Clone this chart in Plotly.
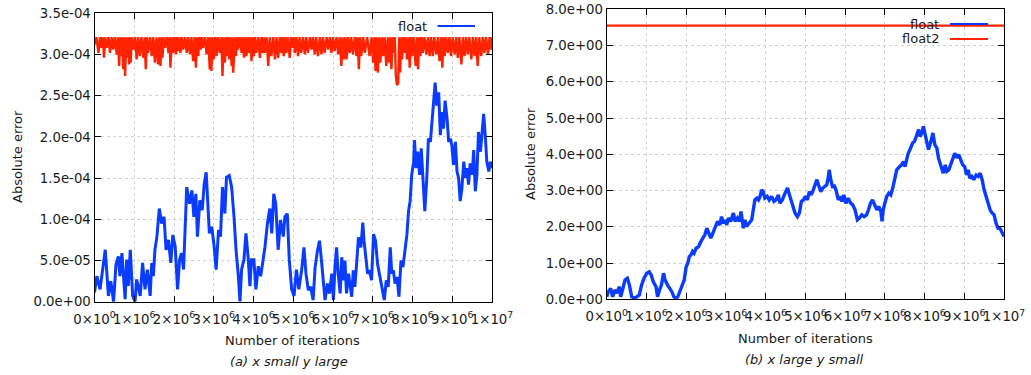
import plotly.graph_objects as go

W, H = 1031, 375

# ---------------- data (x in millions of iterations) ----------------
# (a) blue "float" series, values in 1e-5
a_float_x = [0.00, 0.06, 0.14, 0.23, 0.27, 0.35, 0.41, 0.48, 0.54, 0.60, 0.64, 0.69, 0.73, 0.77, 0.81, 0.85, 0.90, 0.96,
             1.02, 1.06, 1.15, 1.21, 1.27, 1.33, 1.40, 1.44, 1.48, 1.52, 1.57, 1.63, 1.69, 1.75, 1.80, 1.86, 1.92, 1.97,
             2.03, 2.09, 2.14, 2.19, 2.24, 2.28, 2.32, 2.39, 2.45, 2.50, 2.55, 2.59, 2.65, 2.71, 2.76, 2.81, 2.84, 2.89,
             2.95, 3.01, 3.06, 3.12, 3.17, 3.22, 3.28, 3.32, 3.39, 3.45, 3.51, 3.56, 3.62, 3.66, 3.70, 3.76, 3.81, 3.87,
             3.91, 3.95, 4.01, 4.06, 4.12, 4.18, 4.23, 4.29, 4.35, 4.41, 4.46, 4.51, 4.56, 4.62, 4.68, 4.75, 4.79, 4.85,
             4.90, 4.96, 5.02, 5.08, 5.14,
             5.21, 5.27, 5.32, 5.38, 5.44, 5.50, 5.55, 5.61, 5.66, 5.71, 5.76, 5.80, 5.86, 5.91, 5.97, 6.01, 6.05, 6.09,
             6.13, 6.18, 6.22, 6.26, 6.30, 6.34, 6.39, 6.43, 6.47, 6.51, 6.55, 6.60, 6.64, 6.70, 6.75, 6.78, 6.83, 6.87,
             6.92, 6.97, 7.02, 7.07, 7.12, 7.17, 7.23, 7.29, 7.34, 7.39, 7.44, 7.48, 7.52, 7.56, 7.61, 7.66, 7.71, 7.76,
             7.82, 7.86, 7.90, 7.94, 7.98, 8.03, 8.05, 8.09, 8.13, 8.18, 8.22, 8.26, 8.31, 8.36, 8.40, 8.45, 8.49, 8.53,
             8.57, 8.61, 8.66, 8.70, 8.74, 8.78, 8.82, 8.87, 8.91, 8.95, 8.99, 9.03, 9.08, 9.12, 9.16, 9.20, 9.24, 9.29,
             9.33, 9.37, 9.41, 9.45, 9.50, 9.54, 9.58, 9.62, 9.66, 9.71, 9.75, 9.79, 9.83, 9.87, 9.92, 9.96, 10.00]
a_float_y = [1.1, 3.1, 1.5, 5.1, 6.3, 0.7, 2.5, 0.0, 4.5, 5.5, 3.1, 5.9, 2.3, 0.3, 5.1, 1.9, 6.3, 0.7,
             0.0, 2.7, 0.7, 4.7, 1.5, 3.9, 0.7, 4.7, 3.1, 6.3, 7.9, 11.3, 9.5, 10.3, 6.3, 7.5, 4.7, 8.1,
             6.7, 1.5, 5.1, 5.9, 3.9, 8.3, 13.9, 11.9, 13.5, 10.3, 13.1, 7.9, 12.3, 11.1, 14.3, 15.7, 12.3, 8.3,
             9.1, 6.7, 3.9, 8.7, 7.9, 13.9, 10.7, 15.1, 15.3, 13.9, 10.3, 6.3, 3.1, 0.0, 3.9, 5.1, 8.3, 5.1,
             1.9, 5.1, 5.1, 1.5, 4.3, 3.1, 4.7, 6.7, 9.5, 11.3, 8.3, 13.1, 11.9, 6.3, 9.9, 7.9, 10.3, 10.7,
             5.1, 1.5, 0.7, 3.9, 1.5,
             3.8, 6.6, 3.4, 1.4, 1.8, 0.2, 4.2, 6.2, 7.4, 5.0, 2.6, 0.2, 2.2, 1.0, 3.4, 0.2, 4.2, 6.6,
             3.4, 1.0, 5.4, 2.6, 5.0, 1.0, 3.4, 1.8, 0.6, 3.8, 1.8, 5.0, 7.8, 6.6, 9.6, 7.4, 5.0, 3.4,
             3.8, 2.6, 8.2, 7.4, 4.6, 3.4, 1.8, 0.2, 2.6, 1.8, 6.6, 3.4, 3.8, 2.2, 3.0, 0.6, 5.0, 4.2,
             6.6, 8.2, 11.0, 12.2, 15.4, 17.0, 19.6, 16.2, 18.2, 15.4, 18.6, 15.0, 11.0, 15.0, 19.8, 19.4, 22.2, 25.0,
             26.6, 23.8, 25.4, 20.2, 23.0, 21.0, 24.4, 22.2, 19.4, 19.8, 19.0, 16.6, 19.4, 15.8, 15.0, 12.2, 13.6, 17.0,
             15.0, 16.2, 14.2, 16.8, 15.4, 18.4, 13.4, 15.4, 20.6, 18.2, 20.6, 22.8, 20.2, 17.0, 15.8, 17.0, 16.2]

# (a) red series: downward spikes (values in 1e-4) and the ceiling it keeps touching
a_red_low_x = [0.01, 0.10, 0.18, 0.24, 0.31, 0.39, 0.47, 0.56, 0.62, 0.68, 0.72, 0.77, 0.82, 0.87, 0.91, 0.98,
               1.06, 1.14, 1.23, 1.29, 1.35, 1.44, 1.52, 1.60, 1.66, 1.71, 1.77, 1.86, 1.91, 1.98, 2.05, 2.11,
               2.16, 2.23, 2.32, 2.40, 2.48, 2.55, 2.61, 2.67, 2.73, 2.82, 2.90, 2.94, 3.00, 3.07, 3.15, 3.22,
               3.28, 3.34, 3.39, 3.45, 3.49, 3.56, 3.61, 3.70, 3.76, 3.82, 3.89, 3.95, 4.01, 4.07, 4.16, 4.23,
               4.28, 4.37, 4.45, 4.54, 4.62, 4.70, 4.76, 4.83, 4.91, 4.99,
               5.04, 5.12, 5.20, 5.29, 5.37, 5.46, 5.54, 5.62, 5.71, 5.79, 5.88, 5.96, 6.04, 6.13, 6.21, 6.27,
               6.34, 6.42, 6.50, 6.59, 6.65, 6.71, 6.80, 6.92, 7.01, 7.07, 7.13, 7.19, 7.26, 7.34, 7.41, 7.47,
               7.53, 7.58, 7.61, 7.64, 7.69, 7.74, 7.80, 7.86, 7.93, 7.99, 8.08, 8.14, 8.20, 8.26, 8.35, 8.43,
               8.51, 8.60, 8.68, 8.75, 8.81, 8.89, 8.97, 9.06, 9.14, 9.23, 9.31, 9.39, 9.48, 9.56, 9.64, 9.73,
               9.81, 9.90, 9.98]
a_red_low_y = [3.12, 3.02, 3.08, 2.96, 3.08, 3.02, 3.06, 3.00, 2.86, 2.98, 2.82, 2.74, 2.96, 2.88, 2.90, 3.06,
               2.94, 2.98, 2.96, 2.82, 3.02, 2.98, 2.90, 2.88, 2.86, 2.96, 3.08, 3.02, 2.84, 3.02, 3.00, 3.04,
               3.02, 3.06, 3.02, 3.00, 2.92, 2.84, 2.98, 3.06, 3.08, 3.00, 2.82, 2.80, 2.94, 2.98, 3.02, 2.74,
               2.90, 2.98, 2.94, 2.86, 2.78, 2.98, 3.06, 3.02, 2.96, 2.98, 3.02, 2.92, 2.98, 3.02, 2.96, 3.02,
               3.02, 2.86, 2.98, 2.94, 2.96, 3.02, 2.98, 3.02, 2.96, 3.08,
               3.02, 2.98, 3.02, 3.00, 3.02, 3.06, 3.00, 2.98, 3.00, 3.02, 3.06, 3.02, 3.04, 3.00, 2.86, 2.94,
               2.94, 3.02, 3.00, 2.98, 2.82, 2.98, 3.02, 2.98, 2.90, 2.80, 2.78, 2.90, 2.98, 2.86, 2.90, 2.82,
               3.02, 2.74, 2.63, 2.65, 2.78, 2.94, 3.02, 2.94, 2.84, 2.98, 2.86, 2.82, 2.98, 3.02, 3.00, 2.98,
               2.98, 3.00, 2.92, 2.84, 2.98, 3.02, 2.98, 3.00, 2.96, 2.88, 2.98, 3.00, 2.94, 2.98, 2.86, 2.98,
               3.02, 3.00, 3.06]
a_red_top_x = [0.00, 0.05, 0.14, 0.21, 0.27, 0.35, 0.43, 0.51, 0.59, 0.65, 0.70, 0.75, 0.80, 0.85, 0.89, 0.94,
               1.02, 1.10, 1.18, 1.26, 1.32, 1.40, 1.48, 1.56, 1.63, 1.69, 1.74, 1.82, 1.89, 1.95, 2.02, 2.08,
               2.14, 2.20, 2.28, 2.36, 2.44, 2.52, 2.58, 2.64, 2.70, 2.78, 2.86, 2.92, 2.97, 3.04, 3.11, 3.19,
               3.25, 3.31, 3.37, 3.42, 3.47, 3.53, 3.59, 3.66, 3.73, 3.79, 3.86, 3.92, 3.98, 4.04, 4.12, 4.20,
               4.26, 4.33, 4.41, 4.50, 4.58, 4.66, 4.73, 4.80, 4.87, 4.95, 5.02,
               5.08, 5.16, 5.25, 5.33, 5.42, 5.50, 5.58, 5.67, 5.75, 5.84, 5.92, 6.00, 6.09, 6.17, 6.24, 6.31,
               6.38, 6.46, 6.55, 6.62, 6.68, 6.76, 6.86, 6.97, 7.04, 7.10, 7.16, 7.23, 7.30, 7.38, 7.44, 7.50,
               7.555, 7.665, 7.715, 7.77, 7.83, 7.90, 7.96, 8.03, 8.11, 8.17, 8.23, 8.30, 8.39, 8.47, 8.55, 8.64,
               8.72, 8.78, 8.85, 8.93, 9.01, 9.10, 9.18, 9.27, 9.35, 9.43, 9.52, 9.60, 9.68, 9.77, 9.85, 9.94, 10.00]
a_red_ceiling = 3.21

# (b) blue "float" series
b_float_x = [0.00, 0.04, 0.10, 0.15, 0.21, 0.25, 0.32, 0.35, 0.40, 0.46, 0.52, 0.57, 0.63, 0.69, 0.76, 0.82,
             0.88, 0.94, 1.01, 1.07, 1.12, 1.17, 1.24, 1.28, 1.33, 1.38, 1.43, 1.47, 1.53, 1.59, 1.64, 1.69,
             1.74, 1.79, 1.85, 1.90, 1.95, 2.00, 2.04, 2.08, 2.12, 2.16, 2.20, 2.25, 2.31, 2.37, 2.42, 2.47,
             2.52, 2.57, 2.62, 2.67, 2.73, 2.79, 2.85, 2.89, 2.94, 2.98, 3.02, 3.06, 3.12, 3.19, 3.23, 3.29,
             3.34, 3.38, 3.44, 3.48, 3.52, 3.59, 3.65, 3.69, 3.73, 3.78, 3.82, 3.86, 3.90, 3.94, 3.98, 4.04,
             4.09, 4.15, 4.21, 4.26, 4.32, 4.36, 4.42, 4.49, 4.55, 4.60, 4.64, 4.70, 4.74, 4.80, 4.85, 4.90,
             4.95, 5.00, 5.05, 5.10, 5.15, 5.20, 5.25, 5.29, 5.33, 5.39, 5.44, 5.49, 5.54, 5.58, 5.60, 5.64,
             5.69, 5.72, 5.77, 5.83, 5.87, 5.92, 5.97, 6.02, 6.08, 6.14, 6.19, 6.25, 6.31, 6.36, 6.42, 6.48,
             6.54, 6.59, 6.64, 6.69, 6.74, 6.80, 6.85, 6.90, 6.93, 6.96, 7.00, 7.05, 7.10, 7.15, 7.20, 7.25,
             7.30, 7.37, 7.42, 7.47, 7.51, 7.55, 7.59, 7.65, 7.70, 7.75, 7.80, 7.85, 7.89, 7.93, 7.97, 8.01,
             8.05, 8.10, 8.15, 8.21, 8.26, 8.31, 8.35, 8.39, 8.44, 8.47, 8.52, 8.56, 8.61, 8.66, 8.71, 8.76,
             8.81, 8.86, 8.91, 8.96, 9.01, 9.06, 9.10, 9.14, 9.19, 9.24, 9.30, 9.35, 9.40, 9.45, 9.50, 9.55,
             9.60, 9.65, 9.70, 9.75, 9.80, 9.85, 9.90, 9.95, 10.00]
b_float_y = [0.07, 0.21, 0.30, 0.07, 0.26, 0.17, 0.35, 0.07, 0.26, 0.53, 0.58, 0.40, 0.07, 0.03, 0.07, 0.12,
             0.40, 0.58, 0.72, 0.76, 0.67, 0.49, 0.35, 0.07, 0.26, 0.40, 0.72, 0.53, 0.40, 0.30, 0.21, 0.07,
             0.03, 0.07, 0.26, 0.35, 0.53, 0.90, 0.99, 1.18, 1.22, 1.32, 1.27, 1.41, 1.45, 1.59, 1.69, 1.78,
             1.96, 1.82, 1.69, 1.82, 1.96, 2.15, 2.05, 2.28, 2.10, 2.19, 2.05, 2.24, 2.15, 2.38, 2.15, 2.24,
             2.15, 2.42, 1.96, 2.19, 2.01, 2.10, 2.19, 2.47, 2.74, 2.79, 2.74, 2.84, 3.02, 2.97, 2.79, 2.84,
             2.74, 2.84, 2.70, 2.74, 2.88, 2.65, 2.74, 2.93, 3.07, 2.88, 2.74, 2.56, 2.38, 2.28, 2.38, 2.70,
             2.74, 2.84, 2.74, 2.97, 2.88, 3.02, 3.20, 3.30, 3.16, 2.97, 3.07, 3.11, 3.16, 3.39, 3.57, 3.30,
             3.07, 3.16, 3.02, 2.74, 2.84, 2.70, 2.88, 2.65, 2.79, 2.65, 2.61, 2.47, 2.19, 2.24, 2.33, 2.28,
             2.33, 2.47, 2.65, 2.74, 2.61, 2.47, 2.56, 2.42, 2.15, 2.47, 2.65, 2.84, 2.93, 2.88, 3.07, 3.30,
             3.57, 3.66, 3.71, 3.80, 3.66, 3.85, 4.03, 4.17, 4.31, 4.36, 4.49, 4.68, 4.49, 4.59, 4.77, 4.54,
             4.40, 4.13, 4.31, 4.59, 4.26, 4.17, 3.90, 3.76, 3.53, 3.48, 3.71, 3.53, 3.57, 3.71, 3.85, 4.03,
             3.90, 3.99, 3.85, 3.71, 3.66, 3.43, 3.57, 3.34, 3.39, 3.30, 3.43, 3.39, 3.48, 3.30, 3.02, 2.84,
             2.65, 2.47, 2.38, 2.33, 2.10, 1.96, 1.96, 1.82, 1.73]

# (b) red "float2" series
b_float2_x = [0.00, 10.00]
b_float2_y = [7.55, 7.55]

x_tick_vals = [0, 1, 2, 3, 4, 5, 6, 7, 8, 9, 10]
x_tick_text = ['0×10<sup>0</sup>', '1×10<sup>6</sup>', '2×10<sup>6</sup>', '3×10<sup>6</sup>', '4×10<sup>6</sup>',
               '5×10<sup>6</sup>', '6×10<sup>6</sup>', '7×10<sup>6</sup>', '8×10<sup>6</sup>', '9×10<sup>6</sup>',
               '1×10<sup>7</sup>']
a_y_tick_vals = [0, 5e-5, 1e-4, 1.5e-4, 2e-4, 2.5e-4, 3e-4, 3.5e-4]
a_y_tick_text = ['0.0e+00', '5.0e-05', '1.0e-04', '1.5e-04', '2.0e-04', '2.5e-04', '3.0e-04', '3.5e-04']
b_y_tick_vals = [0, 1, 2, 3, 4, 5, 6, 7, 8]
b_y_tick_text = ['0.0e+00', '1.0e+00', '2.0e+00', '3.0e+00', '4.0e+00', '5.0e+00', '6.0e+00', '7.0e+00', '8.0e+00']

# ---------------- build ----------------
BLUE = '#0a3cff'
RED = '#ff2200'
TXT = '#1a1a1a'
FONT = 'DejaVu Sans'

red_pts = sorted([(x, y * 1e-4) for x, y in zip(a_red_low_x, a_red_low_y)] +
                 [(x, a_red_ceiling * 1e-4) for x in a_red_top_x])

fig = go.Figure()
fig.add_trace(go.Scatter(x=[p[0] * 1e6 for p in red_pts], y=[p[1] for p in red_pts], mode='lines',
                         line=dict(color=RED, width=2.4), xaxis='x', yaxis='y', showlegend=False))
fig.add_trace(go.Scatter(x=[v * 1e6 for v in a_float_x], y=[v * 1e-5 for v in a_float_y], mode='lines',
                         line=dict(color=BLUE, width=3), xaxis='x', yaxis='y', showlegend=False))
fig.add_trace(go.Scatter(x=[v * 1e6 for v in b_float_x], y=b_float_y, mode='lines',
                         line=dict(color=BLUE, width=3.4), xaxis='x2', yaxis='y2', showlegend=False))
fig.add_trace(go.Scatter(x=[v * 1e6 for v in b_float2_x], y=b_float2_y, mode='lines',
                         line=dict(color=RED, width=2.4), xaxis='x2', yaxis='y2', showlegend=False, cliponaxis=False))


def px(x):
    return x / W


def py(y):
    return 1 - y / H


axis_common = dict(showline=True, linecolor='black', linewidth=1, mirror='allticks', ticks='inside', ticklen=6,
                   tickcolor='black', showgrid=True, gridcolor='#d2d2d2', griddash='dot', gridwidth=1,
                   zeroline=False, tickangle=0, automargin=False,
                   tickfont=dict(family=FONT, size=13.3, color=TXT))

fig.update_layout(
    template='none',
    width=W, height=H, margin=dict(l=0, r=0, t=0, b=0, autoexpand=False),
    paper_bgcolor='white', plot_bgcolor='white',
    xaxis=dict(domain=[px(94.5), px(492)], anchor='y', range=[0, 1e7], tickmode='array', ticklabelstandoff=5,
               tickvals=[v * 1e6 for v in x_tick_vals], ticktext=x_tick_text, **axis_common),
    yaxis=dict(domain=[py(301.7), py(13.3)], anchor='x', range=[0, 3.5e-4], tickmode='array',
               tickvals=a_y_tick_vals, ticktext=a_y_tick_text, **axis_common),
    xaxis2=dict(domain=[px(606.7), px(1004)], anchor='y2', range=[0, 1e7], tickmode='array', ticklabelstandoff=5,
                tickvals=[v * 1e6 for v in x_tick_vals], ticktext=x_tick_text, **axis_common),
    yaxis2=dict(domain=[py(299.3), py(9.3)], anchor='x2', range=[0, 8], tickmode='array',
                tickvals=b_y_tick_vals, ticktext=b_y_tick_text, **axis_common),
)

ann_font = dict(family=FONT, size=13, color=TXT)
annotations = [
    dict(x=px(17), y=py(157), text='Absolute error', textangle=-90),
    dict(x=px(530), y=py(154), text='Absolute error', textangle=-90),
    dict(x=px(292.5), y=py(340), text='Number of iterations'),
    dict(x=px(805), y=py(338), text='Number of iterations'),
    dict(x=px(289), y=py(361), text='<i>(a) x small y large</i>'),
    dict(x=px(803.5), y=py(359), text='<i>(b) x large y small</i>'),
    dict(x=px(429), y=py(26), text='float', xanchor='right'),
    dict(x=px(941), y=py(24), text='float', xanchor='right'),
    dict(x=px(941), y=py(39), text='float2', xanchor='right'),
]
for a in annotations:
    a.update(xref='paper', yref='paper', showarrow=False, font=ann_font)
    a.setdefault('xanchor', 'center')
    a.setdefault('yanchor', 'middle')
fig.update_layout(annotations=annotations)

fig.update_layout(shapes=[
    dict(type='line', xref='paper', yref='paper', x0=px(437.5), x1=px(475), y0=py(26), y1=py(26),
         line=dict(color=BLUE, width=2)),
    dict(type='line', xref='paper', yref='paper', x0=px(950), x1=px(988), y0=py(24), y1=py(24),
         line=dict(color=BLUE, width=2)),
    dict(type='line', xref='paper', yref='paper', x0=px(950), x1=px(988), y0=py(39), y1=py(39),
         line=dict(color=RED, width=2)),
])

fig.write_html('out.html')
